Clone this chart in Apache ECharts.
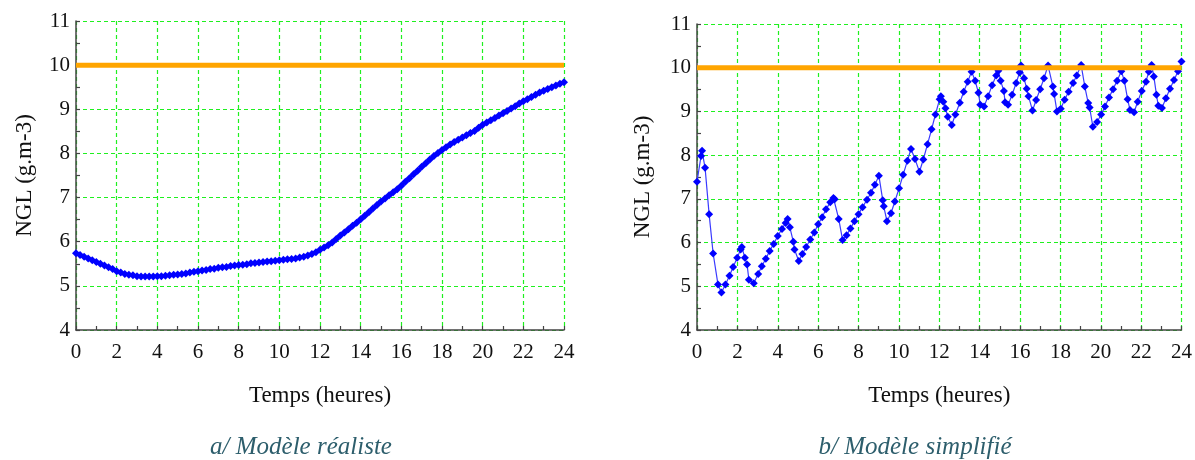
<!DOCTYPE html>
<html>
<head>
<meta charset="utf-8">
<script src="https://cdn.jsdelivr.net/npm/echarts@6/dist/echarts.min.js"></script>
<style>
html,body{margin:0;padding:0;background:#fff;}
#c{width:1195px;height:460px;}
</style>
</head>
<body>
<div id="c"></div>
<script>
// Left panel: realistic model (time in hours, NGL in g.m-3)
const leftTimes = [0,0.2,0.4,0.6,0.8,1,1.2,1.4,1.6,1.8,2,2.2,2.4,2.6,2.8,3,3.2,3.4,3.6,3.8,4,4.2,4.4,4.6,4.8,5,5.2,5.4,5.6,5.8,6,6.2,6.4,6.6,6.8,7,7.2,7.4,7.6,7.8,8,8.2,8.4,8.6,8.8,9,9.2,9.4,9.6,9.8,10,10.2,10.4,10.6,10.8,11,11.2,11.4,11.6,11.8,12,12.2,12.4,12.6,12.8,13,13.2,13.4,13.6,13.8,14,14.2,14.4,14.6,14.8,15,15.2,15.4,15.6,15.8,16,16.2,16.4,16.6,16.8,17,17.2,17.4,17.6,17.8,18,18.2,18.4,18.6,18.8,19,19.2,19.4,19.6,19.8,20,20.2,20.4,20.6,20.8,21,21.2,21.4,21.6,21.8,22,22.2,22.4,22.6,22.8,23,23.2,23.4,23.6,23.8,24];
const leftValues = [5.74,5.70,5.66,5.62,5.58,5.54,5.50,5.46,5.42,5.38,5.33,5.30,5.27,5.25,5.24,5.22,5.21,5.21,5.21,5.21,5.22,5.22,5.23,5.24,5.25,5.26,5.27,5.28,5.30,5.32,5.33,5.35,5.36,5.38,5.39,5.41,5.42,5.43,5.45,5.46,5.47,5.48,5.49,5.51,5.52,5.53,5.54,5.55,5.56,5.57,5.58,5.59,5.60,5.61,5.62,5.64,5.66,5.69,5.72,5.76,5.82,5.87,5.92,5.98,6.06,6.14,6.21,6.28,6.36,6.43,6.51,6.59,6.67,6.75,6.83,6.91,6.98,7.05,7.12,7.19,7.27,7.36,7.44,7.53,7.61,7.70,7.78,7.86,7.94,8.01,8.08,8.14,8.20,8.26,8.31,8.36,8.41,8.46,8.51,8.58,8.65,8.70,8.75,8.80,8.86,8.91,8.96,9.02,9.07,9.13,9.18,9.23,9.28,9.33,9.38,9.42,9.46,9.50,9.54,9.58,9.61];

// Right panel: simplified model
const rightTimes = [0,0.2,0.25,0.4,0.6,0.8,1.04,1.21,1.41,1.61,1.79,1.99,2.16,2.22,2.37,2.48,2.57,2.81,3.03,3.21,3.41,3.6,3.8,4,4.21,4.39,4.49,4.6,4.77,4.83,5.04,5.22,5.41,5.61,5.81,6,6.2,6.39,6.6,6.76,6.82,7.02,7.21,7.41,7.6,7.8,8,8.2,8.42,8.62,8.81,9.01,9.2,9.25,9.41,9.61,9.8,10.01,10.21,10.42,10.6,10.8,11.02,11.21,11.42,11.62,11.81,12.02,12.08,12.2,12.31,12.42,12.62,12.8,13.02,13.21,13.41,13.6,13.78,13.94,14.03,14.22,14.42,14.62,14.82,14.93,15.04,15.2,15.26,15.41,15.61,15.81,15.98,16.05,16.2,16.33,16.42,16.62,16.8,17,17.19,17.39,17.63,17.69,17.83,18.02,18.21,18.41,18.63,18.81,19.03,19.21,19.38,19.45,19.61,19.82,20.02,20.21,20.41,20.61,20.81,21.02,21.17,21.33,21.45,21.65,21.83,22.03,22.24,22.38,22.52,22.63,22.76,22.85,23.03,23.23,23.43,23.63,23.83,24];
const rightValues = [7.39,7.98,8.10,7.71,6.65,5.75,5.04,4.86,5.04,5.24,5.44,5.65,5.84,5.90,5.65,5.50,5.15,5.07,5.28,5.46,5.63,5.81,5.97,6.15,6.31,6.45,6.54,6.35,6.02,5.84,5.58,5.74,5.90,6.07,6.23,6.42,6.58,6.76,6.92,7.02,6.99,6.54,6.06,6.17,6.32,6.49,6.65,6.81,6.98,7.14,7.32,7.53,6.97,6.83,6.49,6.67,6.94,7.24,7.55,7.87,8.14,7.91,7.62,7.90,8.25,8.59,8.93,9.28,9.35,9.22,9.07,8.88,8.69,8.93,9.20,9.45,9.68,9.91,9.70,9.43,9.15,9.11,9.35,9.60,9.82,9.93,9.70,9.47,9.21,9.15,9.38,9.65,9.89,10.05,9.76,9.52,9.35,9.02,9.26,9.51,9.76,10.05,9.57,9.40,9.00,9.06,9.27,9.45,9.65,9.82,10.06,9.57,9.19,9.09,8.65,8.76,8.93,9.11,9.32,9.51,9.70,9.92,9.70,9.28,9.03,8.98,9.22,9.47,9.68,9.91,10.06,9.80,9.38,9.13,9.08,9.30,9.52,9.72,9.92,10.14];

// Reference threshold
const thresholdTimes = [0, 24];
const thresholdValues = [10, 10];

const xTicks = {min: 0, max: 24, interval: 2};
const yTicks = {min: 4, max: 11, interval: 1};
const xName = 'Temps (heures)';
const yName = 'NGL (g.m-3)';
const captions = ['a/ Modèle réaliste', 'b/ Modèle simplifié'];

const pair = (xs, ys) => xs.map((x, i) => [x, ys[i]]);

const FONT = '"Liberation Serif", "Times New Roman", serif';
const gridGreen = '#1ff01f';

function xAxisCfg(gi) {
  return {
    type: 'value', gridIndex: gi, min: xTicks.min, max: xTicks.max, interval: xTicks.interval,
    name: xName, nameLocation: 'middle', nameGap: 54,
    nameTextStyle: {fontFamily: FONT, fontSize: 23, color: '#111'},
    axisLine: {show: true, onZero: false, lineStyle: {color: '#444', width: 1.5}},
    axisTick: {show: true, inside: true, length: 4, lineStyle: {color: '#444', width: 1.2}},
    minorTick: {show: true, splitNumber: 2, length: 4, lineStyle: {color: '#444', width: 1.2}},
    axisLabel: {fontFamily: FONT, fontSize: 21, color: '#111', margin: 12},
    splitLine: {show: true, lineStyle: {color: gridGreen, type: [4, 3], width: 1.2}}
  };
}
function yAxisCfg(gi, gap) {
  return {
    type: 'value', gridIndex: gi, min: yTicks.min, max: yTicks.max, interval: yTicks.interval,
    name: yName, nameLocation: 'middle', nameGap: gap, nameRotate: 90,
    nameTextStyle: {fontFamily: FONT, fontSize: 23, color: '#111'},
    axisLine: {show: true, onZero: false, lineStyle: {color: '#444', width: 1.5}},
    axisTick: {show: true, inside: true, length: 4, lineStyle: {color: '#444', width: 1.2}},
    minorTick: {show: true, splitNumber: 2, length: 4, lineStyle: {color: '#444', width: 1.2}},
    axisLabel: {fontFamily: FONT, fontSize: 21, color: '#111', margin: 6},
    splitLine: {show: true, lineStyle: {color: gridGreen, type: [4, 3], width: 1.2}}
  };
}

const chart = echarts.init(document.getElementById('c'), null, {renderer: 'canvas'});
chart.setOption({
  animation: false,
  backgroundColor: '#fff',
  title: [
    {text: captions[0], left: 296, top: 430, textAlign: 'center',
     textStyle: {fontFamily: FONT, fontSize: 25, fontStyle: 'italic', fontWeight: 'normal', color: '#2d5e6c'}},
    {text: captions[1], left: 910, top: 430, textAlign: 'center',
     textStyle: {fontFamily: FONT, fontSize: 25, fontStyle: 'italic', fontWeight: 'normal', color: '#2d5e6c'}}
  ],
  grid: [
    {left: 76, top: 21, width: 488, height: 309},
    {left: 697, top: 24, width: 486, height: 306}
  ],
  xAxis: [xAxisCfg(0), xAxisCfg(1)],
  yAxis: [yAxisCfg(0, 40), yAxisCfg(1, 43)],
  series: [
    {type: 'line', xAxisIndex: 0, yAxisIndex: 0, data: pair(leftTimes, leftValues),
     symbol: 'diamond', symbolSize: 8, showAllSymbol: true,
     itemStyle: {color: '#0000ff'}, lineStyle: {color: '#0000ff', width: 3}, z: 3},
    {type: 'line', xAxisIndex: 0, yAxisIndex: 0, data: pair(thresholdTimes, thresholdValues),
     symbol: 'none', lineStyle: {color: '#ffa500', width: 5}, z: 4},
    {type: 'line', xAxisIndex: 1, yAxisIndex: 1, data: pair(rightTimes, rightValues),
     symbol: 'diamond', symbolSize: 8, showAllSymbol: true,
     itemStyle: {color: '#0000ff'}, lineStyle: {color: '#3a3aff', width: 1.2}, z: 3},
    {type: 'line', xAxisIndex: 1, yAxisIndex: 1, data: pair(thresholdTimes, thresholdValues),
     symbol: 'none', lineStyle: {color: '#ffa500', width: 5}, z: 4}
  ]
});
</script>
</body>
</html>
